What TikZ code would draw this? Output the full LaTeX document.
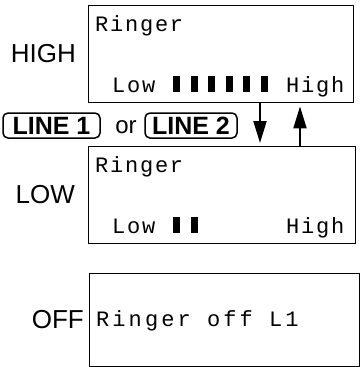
\documentclass[tikz,border=0pt]{standalone}
\usepackage{fontspec}
\setmainfont{Liberation Sans}
\newfontfamily\lcdfam{Liberation Mono}[LetterSpace=8]
\newfontfamily\lcdwidefam{Liberation Mono}[LetterSpace=14]
\usetikzlibrary{arrows.meta}
\newcommand\lcdtext{\lcdfam\fontsize{22}{22}\selectfont}
\newcommand\lcdwidetext{\lcdwidefam\fontsize{22}{22}\selectfont}
\begin{document}
\begin{tikzpicture}[x=1pt,y=-1pt,
  lcdbox/.style={draw, line width=1.4pt, inner sep=0pt, anchor=north west},
  lcd/.style={font=\lcdtext, inner sep=0pt, anchor=base west},
  mode/.style={font=\fontsize{26}{26}\selectfont, inner sep=0pt, anchor=east},
  key/.style={draw, rounded corners=5pt, line width=1.5pt, font=\fontsize{25}{25}\selectfont\bfseries, inner sep=0pt, minimum height=25pt},
  arr/.style={line width=2pt, -{Triangle[length=22pt,width=13pt]}, shorten >=3pt}]
\useasboundingbox (0,0) rectangle (361,367);
% boxes
\node[lcdbox, minimum width=265pt, minimum height=97pt] (b1) at (88,5) {};
\node[lcdbox, minimum width=267pt, minimum height=97pt] (b2) at (88,146) {};
\node[lcdbox, minimum width=270pt, minimum height=93pt] (b3) at (89,273) {};
% mode labels
\node[mode] (high) at (76,54) {HIGH};
\node[mode] (low) at (75,195) {LOW};
\node[mode] (off) at (84,320) {OFF};
% box 1 contents
\node[lcd] (r1) at (95,31) {Ringer};
\node[lcd] (l1) at (112,92) {Low};
\node[lcd] (h1) at (286,92) {High};
\foreach \i in {0,...,5} \fill (173+17.5*\i,76) rectangle ++(7,16);
% box 2 contents
\node[lcd] (r2) at (95,172) {Ringer};
\node[lcd] (l2) at (112,233) {Low};
\node[lcd] (h2) at (286,233) {High};
\foreach \i in {0,1} \fill (173+17.5*\i,217) rectangle ++(7,16);
% box 3 contents
\node[lcd, font=\lcdwidetext] (r3) at (96,326) {Ringer off L1};
% keys
\node[key, minimum width=97pt] (k1) at (51.5,125.5) {LINE 1};
\node[font=\fontsize{24}{24}\selectfont, inner sep=0pt] (or) at (126,127) {or};
\node[key, minimum width=92pt] (k2) at (191,125.5) {LINE 2};
% arrows
\draw[arr] ([xshift=172pt]b1.south west) -- ([xshift=172pt]b2.north west);
\draw[arr] ([xshift=212pt]b2.north west) -- ([xshift=212pt]b1.south west);
\end{tikzpicture}
\end{document}
